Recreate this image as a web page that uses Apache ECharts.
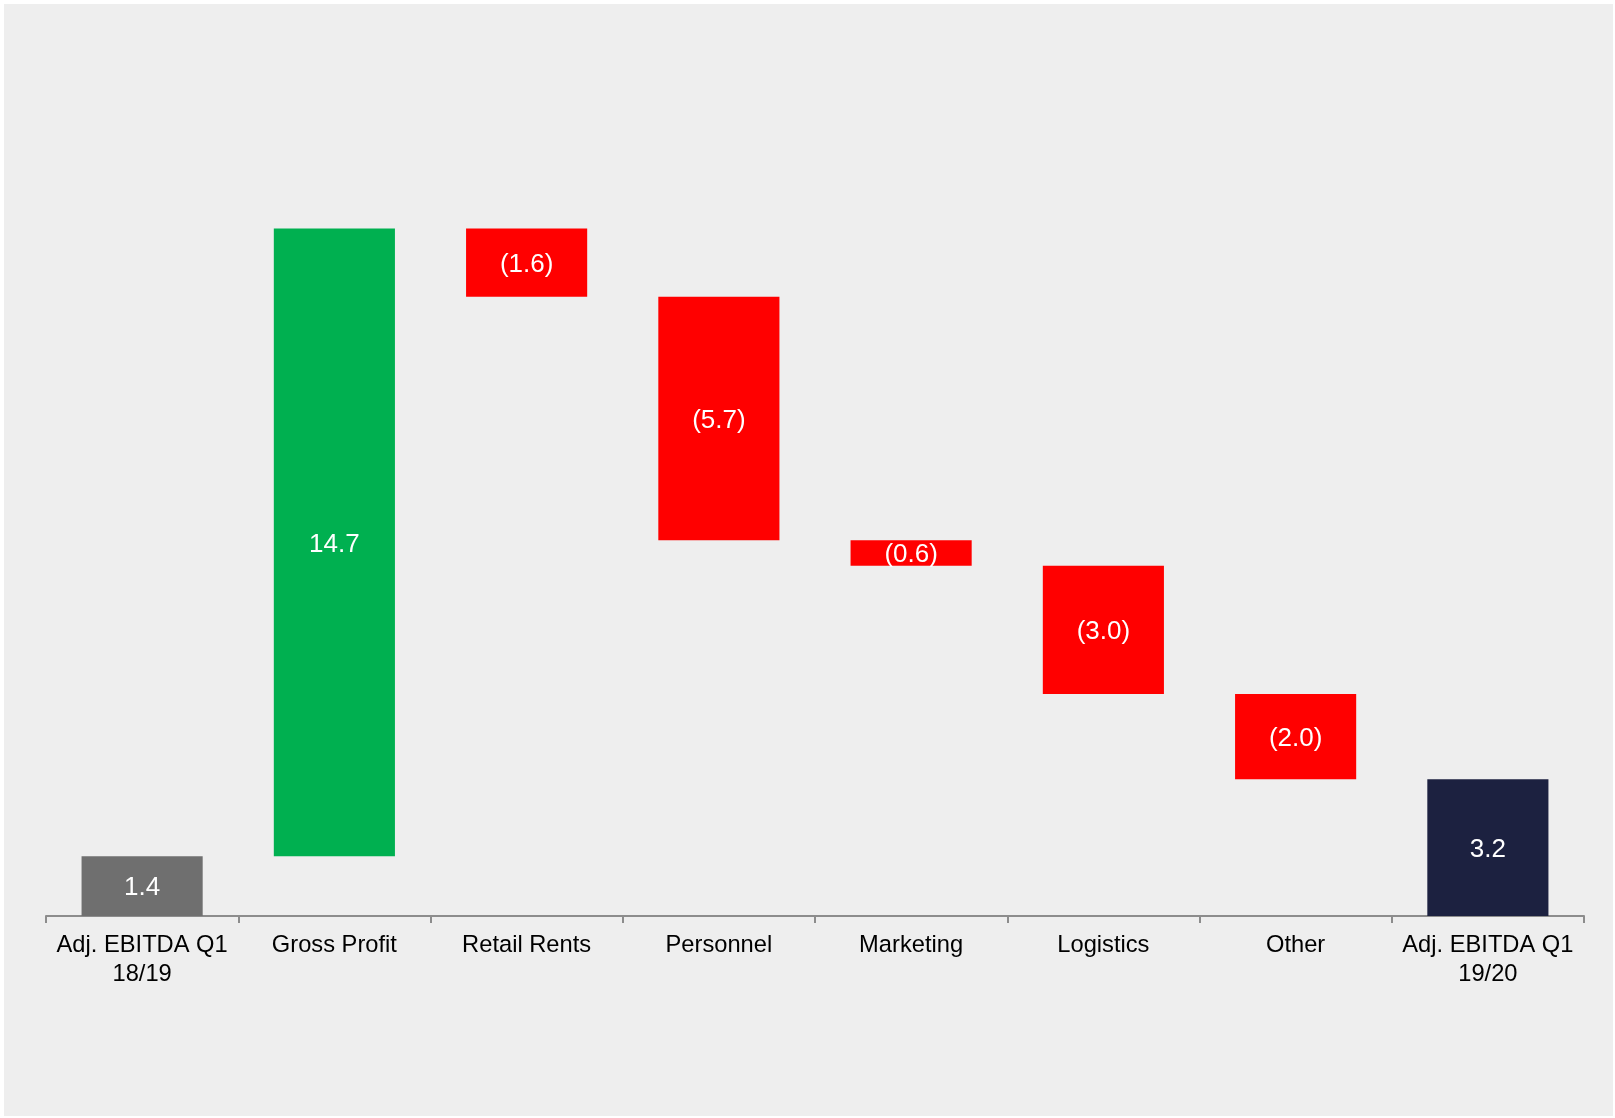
<!DOCTYPE html>
<html>
<head>
<meta charset="utf-8">
<script src="https://cdn.jsdelivr.net/npm/echarts@6/dist/echarts.min.js"></script>
<style>
  html, body { margin: 0; padding: 0; background: #ffffff; }
  #chart { position: absolute; left: 4px; top: 4px; width: 1609px; height: 1112px; background: #eeeeee; }
</style>
</head>
<body>
<div id="chart"></div>
<script>
// EBITDA bridge, in millions
const categories = ['Adj. EBITDA Q1\n18/19', 'Gross Profit', 'Retail Rents', 'Personnel',
  'Marketing', 'Logistics', 'Other', 'Adj. EBITDA Q1\n19/20']
const values = [1.4, 14.7, -1.6, -5.7, -0.6, -3.0, -2.0, 3.2]
const isTotal = [true, false, false, false, false, false, false, true]
const colors = ['#6f6f6f', '#00b050', '#ff0000', '#ff0000', '#ff0000', '#ff0000', '#ff0000', '#1c2140']

// invisible base + visible step for each bar
const base = []
const step = []
let running = 0
values.forEach((v, i) => {
  if (isTotal[i]) {
    base.push(0)
    step.push(v)
    running = v
  } else {
    const next = running + v
    base.push(Math.min(running, next))
    step.push(Math.abs(v))
    running = next
  }
})

const chart = echarts.init(document.getElementById('chart'))
chart.setOption({
  animation: false,
  grid: { left: 42, right: 29, top: 58, bottom: 200 },
  xAxis: {
    type: 'category',
    data: categories,
    axisLine: { lineStyle: { color: '#8c8c8c', width: 2 } },
    axisTick: { show: true, length: 7, lineStyle: { color: '#8c8c8c', width: 2 } },
    axisLabel: {
      color: '#000000',
      fontFamily: 'Liberation Sans, Arial, sans-serif',
      fontSize: 23.7,
      lineHeight: 29,
      margin: 15,
      interval: 0
    }
  },
  yAxis: {
    type: 'value',
    min: 0,
    max: 20,
    show: false,
    splitLine: { show: false }
  },
  series: [
    {
      type: 'bar',
      stack: 'bridge',
      data: base,
      barWidth: '63%',
      itemStyle: { color: 'transparent' },
      silent: true
    },
    {
      type: 'bar',
      stack: 'bridge',
      barWidth: '63%',
      data: step.map((s, i) => ({ value: s, itemStyle: { color: colors[i] } })),
      label: {
        show: true,
        position: 'inside',
        offset: [0, 2],
        color: '#ffffff',
        fontFamily: 'Liberation Sans, Arial, sans-serif',
        fontSize: 26,
        formatter: p => {
          const v = values[p.dataIndex]
          return v < 0 ? '(' + Math.abs(v).toFixed(1) + ')' : v.toFixed(1)
        }
      }
    }
  ]
})
</script>
</body>
</html>
